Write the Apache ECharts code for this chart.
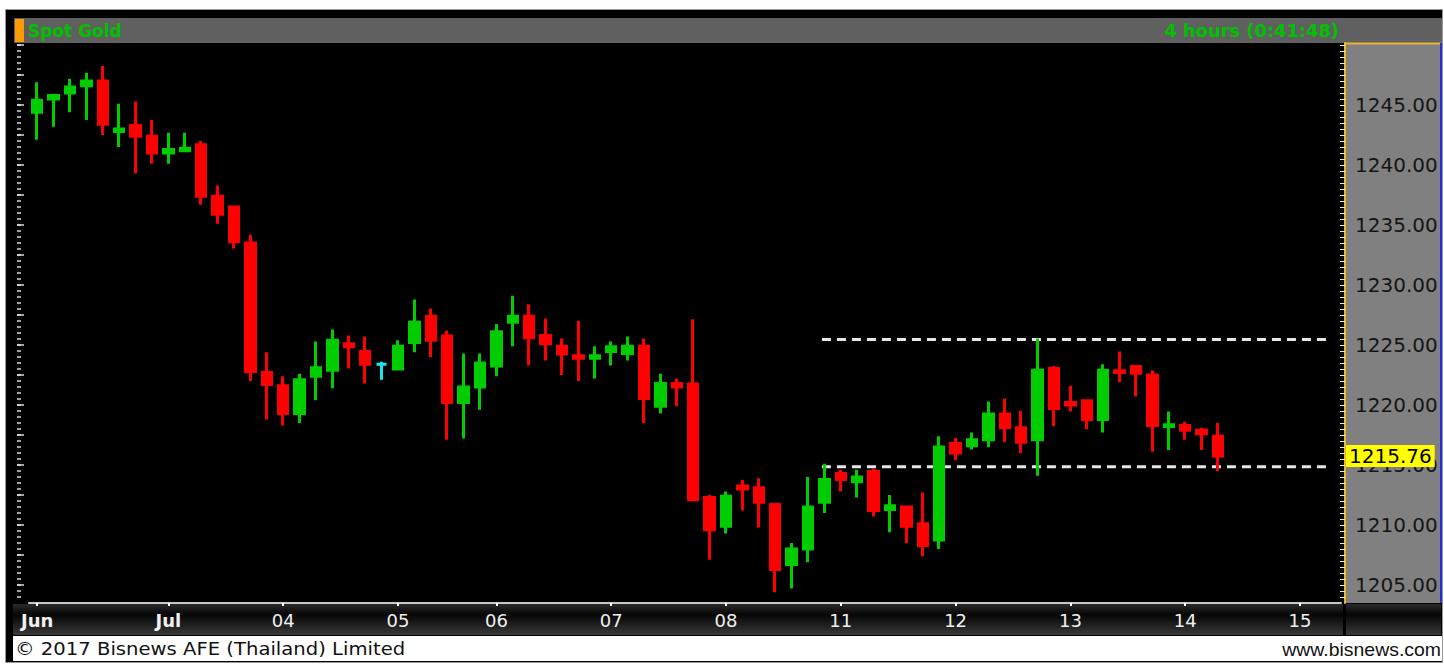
<!DOCTYPE html>
<html>
<head>
<meta charset="utf-8">
<script src="https://cdn.jsdelivr.net/npm/echarts@6/dist/echarts.min.js"></script>
<style>
  html, body { margin: 0; padding: 0; background: #fff; }
  #chart { width: 1444px; height: 665px; }
</style>
</head>
<body>
<div id="chart"></div>
<script>
// 4 hour candles, Spot Gold (Jun 30 - Jul 14)
const opens  = [1244.4, 1245.5, 1246.0, 1246.6, 1247.0, 1242.8, 1243.3, 1242.4, 1241.0, 1241.2,
                1241.7, 1237.4, 1236.5, 1233.5, 1222.7, 1221.6, 1219.3, 1222.4, 1222.9, 1225.1,
                1224.45, 1223.4, 1223.0, 1225.2, 1227.4, 1225.75, 1220.2, 1221.5, 1223.25, 1226.9,
                1227.4, 1225.8, 1224.9, 1224.1, 1223.9, 1224.45, 1224.3, 1224.9, 1219.9, 1221.8,
                1221.75, 1212.3, 1209.9, 1213.25, 1213.1, 1211.7, 1206.7, 1208.0, 1211.9, 1214.3,
                1213.6, 1214.45, 1211.3, 1211.5, 1210.1, 1208.75, 1216.8, 1216.6, 1217.1, 1219.25,
                1218.1, 1217.1, 1223.05, 1220.2, 1220.35, 1218.8, 1222.85, 1223.2, 1222.5, 1218.2,
                1218.3, 1217.9, 1217.4];
const closes = [1245.4, 1245.8, 1246.5, 1247.0, 1243.4, 1243.0, 1242.4, 1241.0, 1241.3, 1241.4,
                1237.4, 1235.9, 1233.6, 1222.8, 1221.7, 1219.3, 1222.1, 1223.1, 1225.4, 1224.85,
                1223.4, 1223.4, 1224.9, 1226.9, 1225.4, 1220.2, 1221.5, 1223.5, 1226.1, 1227.4,
                1225.6, 1225.1, 1224.25, 1223.9, 1224.1, 1224.85, 1224.9, 1220.55, 1221.8, 1221.5,
                1212.1, 1209.6, 1212.4, 1213.0, 1211.9, 1206.3, 1208.0, 1211.5, 1213.8, 1213.8,
                1214.0, 1211.2, 1211.6, 1209.9, 1208.3, 1216.5, 1216.0, 1217.1, 1219.25, 1218.1,
                1216.9, 1222.9, 1219.7, 1220.0, 1218.8, 1222.9, 1222.7, 1222.65, 1218.3, 1218.35,
                1217.9, 1217.6, 1215.76];
const lows   = [1242.1, 1243.2, 1244.4, 1243.75, 1242.5, 1241.5, 1239.3, 1240.1, 1240.1, 1241.2,
                1236.7, 1235.1, 1233.05, 1222.0, 1218.8, 1218.3, 1218.5, 1220.4, 1221.4, 1223.05,
                1221.8, 1222.1, 1222.9, 1224.4, 1224.0, 1217.1, 1217.2, 1219.6, 1222.4, 1224.9,
                1223.3, 1223.7, 1222.5, 1222.0, 1222.2, 1223.3, 1223.7, 1218.5, 1219.3, 1219.9,
                1212.1, 1207.1, 1209.3, 1211.2, 1209.8, 1204.4, 1204.7, 1206.9, 1211.0, 1212.8,
                1212.3, 1210.7, 1209.4, 1208.5, 1207.4, 1208.0, 1215.4, 1216.3, 1216.5, 1216.9,
                1216.0, 1214.1, 1218.25, 1219.45, 1218.0, 1217.7, 1221.9, 1220.7, 1216.1, 1216.25,
                1217.1, 1216.25, 1214.5];
const highs  = [1246.9, 1245.9, 1247.2, 1247.7, 1248.25, 1245.1, 1245.3, 1243.75, 1242.7, 1242.7,
                1242.0, 1238.3, 1236.5, 1234.2, 1224.4, 1222.4, 1222.6, 1225.3, 1226.3, 1225.8,
                1225.7, 1223.6, 1225.4, 1228.8, 1228.05, 1226.2, 1224.3, 1224.3, 1226.75, 1229.1,
                1228.4, 1227.2, 1225.55, 1227.0, 1224.9, 1225.3, 1225.7, 1225.55, 1222.6, 1222.2,
                1227.15, 1212.5, 1212.8, 1213.75, 1213.9, 1211.75, 1208.5, 1214.0, 1215.1, 1214.6,
                1214.6, 1214.7, 1212.5, 1211.5, 1212.7, 1217.4, 1217.25, 1217.7, 1220.3, 1220.55,
                1219.5, 1225.55, 1223.25, 1221.6, 1220.4, 1223.4, 1224.45, 1223.25, 1222.9, 1219.45,
                1218.6, 1218.1, 1218.5];
const unchangedCandles = [21];   // drawn in cyan

// x axis: slot positions of the day labels
const tickLabels = ['Jun', 'Jul', '04', '05', '06', '07', '08', '11', '12', '13', '14', '15'];
const tickIndex  = [0, 8, 15, 22, 28, 35, 42, 49, 56, 63, 70, 77];
const monthLabels = ['Jun', 'Jul'];
const slotCount = 80;

// price axis
const priceLabels = [1205, 1210, 1215, 1220, 1225, 1230, 1235, 1240, 1245];
const priceMin = 1203.5;
const priceMax = 1250.17;
const lastPrice = 1215.76;

// dashed range lines (slot index from / to, price)
const rangeLevels = [1225.45, 1214.86];
const rangeFrom = 47.85;
const rangeTo = 78.7;

const categories = [];
for (let i = 0; i < slotCount; i++) categories.push('s' + i);

const candleData = opens.map((o, i) => {
  const item = { value: [o, closes[i], lows[i], highs[i]] };
  if (unchangedCandles.indexOf(i) >= 0) {
    item.itemStyle = { color: '#19e6f0', color0: '#19e6f0', borderColor: '#19e6f0', borderColor0: '#19e6f0', borderColorDoji: '#19e6f0' };
  }
  return item;
});

const minorTicks = [];
for (let v = 1204; v <= 1250; v += 0.5) minorTicks.push(v);
const leftMajor = [];
for (let v = 1205; v <= 1250; v += 2.5) leftMajor.push(v);

const rangeSeries = rangeLevels.map(lv => ({
  type: 'line',
  xAxisIndex: 1,
  yAxisIndex: 0,
  data: [[rangeFrom, lv], [rangeTo, lv]],
  symbol: 'none',
  silent: true,
  z: 1,
  lineStyle: { color: '#e6e6e6', width: 3, type: [9, 6] }
}));

const chart = echarts.init(document.getElementById('chart'), null, { renderer: 'svg' });

const barGradient = new echarts.graphic.LinearGradient(0, 0, 0, 1, [
  { offset: 0, color: '#2a2a2a' },
  { offset: 0.35, color: '#050505' },
  { offset: 1, color: '#3a3a3a' }
]);

chart.setOption({
  backgroundColor: '#ffffff',
  animation: false,
  textStyle: { fontFamily: 'DejaVu Sans' },
  graphic: [
    { type: 'rect', z: -20, silent: true, shape: { x: 5.5, y: 9.5, width: 1437, height: 653 },
      style: { fill: '#000', stroke: '#9a9a9a', lineWidth: 1 } },
    { type: 'rect', z: -19, silent: true, shape: { x: 14, y: 18, width: 1428, height: 25 },
      style: { fill: '#606060' } },
    { type: 'rect', z: -18, silent: true, shape: { x: 15, y: 19, width: 9, height: 23 },
      style: { fill: '#ff9a00' } },
    { type: 'text', z: -18, silent: true, x: 28, y: 31,
      style: { text: 'Spot Gold', fill: '#00c000', font: 'bold 17px "DejaVu Sans"', verticalAlign: 'middle' } },
    { type: 'text', z: -18, silent: true, x: 1339, y: 31, scaleX: 1.05,
      style: { text: '4 hours (0:41:48)', fill: '#00c000', font: 'bold 17px "DejaVu Sans"', align: 'right', verticalAlign: 'middle' } },
    // price panel
    { type: 'rect', z: -19, silent: true, shape: { x: 1345, y: 43, width: 96, height: 560 },
      style: { fill: '#808080' } },
    { type: 'line', z: -17, silent: true, shape: { x1: 1345, y1: 43.5, x2: 1441, y2: 43.5 },
      style: { stroke: '#e8b830', lineWidth: 2 } },
    { type: 'line', z: -17, silent: true, shape: { x1: 1441, y1: 43, x2: 1441, y2: 603 },
      style: { stroke: '#2030d0', lineWidth: 2 } },
    // time bar
    { type: 'rect', z: -19, silent: true, shape: { x: 13, y: 604, width: 1330, height: 31 },
      style: { fill: barGradient } },
    { type: 'rect', z: -19, silent: true, shape: { x: 1346, y: 604, width: 95, height: 31 },
      style: { fill: barGradient } },
    // footer
    { type: 'rect', z: -19, silent: true, shape: { x: 13, y: 636, width: 1429, height: 25 },
      style: { fill: '#fff' } },
    { type: 'text', z: -18, silent: true, x: 15, y: 649, scaleX: 1.09,
      style: { text: '\u00a9 2017 Bisnews AFE (Thailand) Limited', fill: '#111', font: '18px "DejaVu Sans"', verticalAlign: 'middle' } },
    { type: 'text', z: -18, silent: true, x: 1441, y: 650, scaleX: 1.08,
      style: { text: 'www.bisnews.com', fill: '#111', font: '18px "Liberation Sans"', align: 'right', verticalAlign: 'middle' } }
  ],
  grid: {
    left: 29, right: 103, top: 43, bottom: 62,
    show: true, backgroundColor: '#000', borderWidth: 0
  },
  xAxis: [
    {
      type: 'category',
      data: categories,
      boundaryGap: true,
      axisLine: { show: true, onZero: false, lineStyle: { color: '#c8c8c8', width: 2 } },
      axisTick: {
        show: true, alignWithLabel: true, length: 3,
        interval: (idx) => tickIndex.indexOf(idx) >= 0,
        lineStyle: { color: '#ffffff', width: 2 }
      },
      axisLabel: {
        interval: (idx) => tickIndex.indexOf(idx) >= 0,
        margin: 8,
        color: '#f0f0f0',
        fontSize: 18,
        fontFamily: 'DejaVu Sans',
        formatter: (val, idx) => {
          const k = tickIndex.indexOf(idx);
          if (k < 0) return '';
          const t = tickLabels[k];
          return monthLabels.indexOf(t) >= 0 ? '{b|' + t + '}' : t;
        },
        rich: { b: { fontWeight: 'bold', fontSize: 18, color: '#f0f0f0', fontFamily: 'DejaVu Sans' } }
      },
      splitLine: { show: false }
    },
    {
      type: 'value',
      min: -0.5, max: slotCount - 0.5,
      show: false
    }
  ],
  yAxis: [
    {
      type: 'value',
      position: 'right',
      offset: 4,
      min: priceMin, max: priceMax,
      axisLine: { show: true, onZero: false, lineStyle: { color: '#e8b830', width: 2 } },
      axisTick: {
        show: true, inside: true, length: 5,
        customValues: minorTicks,
        lineStyle: { color: '#f3ecc8', width: 1 }
      },
      axisLabel: {
        customValues: priceLabels,
        formatter: (v) => v.toFixed(2),
        color: '#151515',
        fontSize: 20,
        fontFamily: 'DejaVu Sans',
        margin: 10
      },
      splitLine: { show: false }
    },
    {
      type: 'value',
      position: 'left',
      offset: 12,
      min: priceMin, max: priceMax,
      axisLine: { show: false, onZero: false },
      axisTick: {
        show: true, inside: true, length: 4,
        customValues: minorTicks,
        lineStyle: { color: '#d8d8d8', width: 1.5 }
      },
      axisLabel: { show: false },
      splitLine: { show: false }
    },
    {
      type: 'value',
      position: 'left',
      offset: 12,
      min: priceMin, max: priceMax,
      axisLine: { show: false, onZero: false },
      axisTick: {
        show: true, inside: true, length: 7,
        customValues: leftMajor,
        lineStyle: { color: '#d8d8d8', width: 1.5 }
      },
      axisLabel: { show: false },
      splitLine: { show: false }
    }
  ],
  series: [
    ...rangeSeries,
    {
      type: 'candlestick',
      xAxisIndex: 0,
      yAxisIndex: 0,
      z: 3,
      clip: false,
      barWidth: 10,
      data: candleData,
      itemStyle: {
        color: '#00cc00',
        color0: '#ff0000',
        borderColor: '#00cc00',
        borderColor0: '#ff0000',
        borderColorDoji: '#19e6f0',
        borderWidth: 3
      },
      markLine: {
        silent: true,
        symbol: 'none',
        z: 10,
        lineStyle: { color: 'rgba(0,0,0,0)', width: 0 },
        label: {
          show: true,
          position: 'end',
          distance: 5,
          formatter: () => lastPrice.toFixed(2),
          backgroundColor: '#ffff00',
          color: '#000',
          fontSize: 20,
          fontFamily: 'DejaVu Sans',
          padding: [1, 3, 1, 3]
        },
        data: [{ yAxis: lastPrice }]
      }
    }
  ]
});
</script>
</body>
</html>
